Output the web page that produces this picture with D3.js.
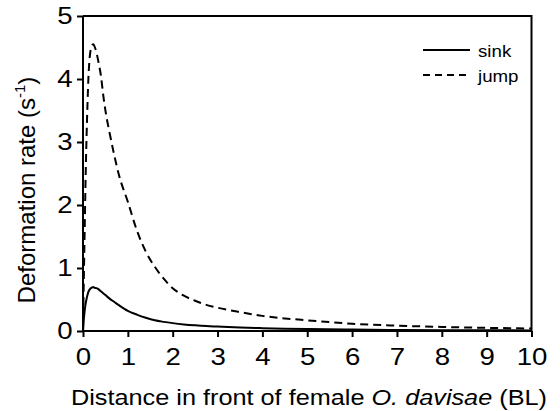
<!DOCTYPE html>
<html>
<head>
<meta charset="utf-8">
<script src="https://cdn.jsdelivr.net/npm/d3@7"></script>
<style>
  body { margin: 0; background: #fff; }
  text { font-family: "Liberation Sans", Arial, sans-serif; fill: #000; }
</style>
</head>
<body>
<div id="chart"></div>
<script>
// values
const distance = [0, 0.02, 0.04, 0.06, 0.08, 0.1, 0.12, 0.15, 0.2, 0.23, 0.25, 0.3, 0.35, 0.4, 0.45, 0.5,
                  0.6, 0.7, 0.8, 1.0, 1.2, 1.4, 1.6, 1.8, 2.0, 2.25, 2.5, 2.75, 3.0, 3.5, 4, 4.5, 5, 6, 7, 8, 9, 10];
const sink = [0, 0.2, 0.34, 0.44, 0.51, 0.57, 0.62, 0.66, 0.69, 0.70, 0.69, 0.68, 0.66, 0.63, 0.6, 0.57,
              0.51, 0.46, 0.41, 0.32, 0.26, 0.21, 0.17, 0.145, 0.125, 0.105, 0.09, 0.078, 0.07, 0.055, 0.045, 0.037, 0.03, 0.022, 0.017, 0.013, 0.011, 0.009];
const jump = [0, 0.9, 1.7, 2.5, 3.1, 3.6, 4.0, 4.35, 4.53, 4.55, 4.53, 4.42, 4.25, 4.05, 3.75, 3.5,
              3.12, 2.78, 2.48, 2.05, 1.6, 1.26, 1.02, 0.83, 0.68, 0.56, 0.48, 0.415, 0.37, 0.3, 0.24, 0.2, 0.17, 0.115, 0.085, 0.065, 0.05, 0.04];
const xTicks = [0, 1, 2, 3, 4, 5, 6, 7, 8, 9, 10];
const yTicks = [0, 1, 2, 3, 4, 5];
const seriesNames = ['sink', 'jump'];

const width = 560, height = 411;
const margin = {top: 16, right: 28.5, bottom: 80, left: 83};
const w = width - margin.left - margin.right, h = height - margin.top - margin.bottom;

const svg = d3.select('#chart').append('svg')
    .attr('width', width).attr('height', height);
const g = svg.append('g').attr('transform', `translate(${margin.left},${margin.top})`);

const x = d3.scaleLinear().domain([0, 10]).range([0, w]);
const y = d3.scaleLinear().domain([0, 5]).range([h, 0]);

// frame (top and right sides)
g.append('path')
    .attr('d', `M0,0 H${w} V${h}`)
    .attr('fill', 'none').attr('stroke', '#000').attr('stroke-width', 2);

const xAxis = g.append('g').attr('transform', `translate(0,${h})`)
    .call(d3.axisBottom(x).tickValues(xTicks).tickSize(6).tickPadding(10).tickFormat(d3.format('d')));
const yAxis = g.append('g')
    .call(d3.axisLeft(y).tickValues(yTicks).tickSize(6).tickPadding(4).tickFormat(d3.format('d')));

[xAxis, yAxis].forEach(a => {
  a.select('.domain').attr('stroke-width', 2).attr('d', a === xAxis ? `M0,0H${w}` : `M0,0V${h}`);
  a.selectAll('.tick line').attr('stroke-width', 2);
  a.selectAll('.tick text').style('font-family', '"Liberation Sans", Arial, sans-serif')
      .style('font-size', '24px').attr('fill', '#000')
      .attr('transform', 'scale(1.15,1)');
});
xAxis.selectAll('.tick text').attr('dy', '0.75em');
yAxis.selectAll('.tick text').attr('x', -9);

const line = d3.line()
    .curve(d3.curveMonotoneX)
    .x((d, i) => x(distance[i]))
    .y(d => y(d));

g.append('path').datum(jump)
    .attr('d', line)
    .attr('fill', 'none').attr('stroke', '#000').attr('stroke-width', 2)
    .attr('stroke-dasharray', '8,5');

g.append('path').datum(sink)
    .attr('d', line)
    .attr('fill', 'none').attr('stroke', '#000').attr('stroke-width', 2);

// legend
const legend = svg.append('g');
seriesNames.forEach((name, i) => {
  const ly = 50 + i * 25;
  legend.append('line')
      .attr('x1', 423).attr('x2', 470).attr('y1', ly).attr('y2', ly)
      .attr('stroke', '#000').attr('stroke-width', 2)
      .attr('stroke-dasharray', i === 1 ? '7,5' : null);
  legend.append('text')
      .attr('transform', `translate(478,${ly + 6.5}) scale(1.1,1)`)
      .style('font-size', '17px')
      .text(name);
});

// axis titles
const xt = svg.append('text')
    .attr('x', 309).attr('y', 405)
    .attr('text-anchor', 'middle')
    .attr('textLength', 476).attr('lengthAdjust', 'spacingAndGlyphs')
    .style('font-size', '22px');
xt.append('tspan').text('Distance in front of female ');
xt.append('tspan').style('font-style', 'italic').text('O. davisae');
xt.append('tspan').text(' (BL)');

const yt = svg.append('text')
    .attr('transform', 'translate(35,190) rotate(-90)')
    .attr('text-anchor', 'middle')
    .style('font-size', '24px');
yt.append('tspan').text('Deformation rate (s');
yt.append('tspan').attr('dy', -10).style('font-size', '15px').text('-1');
yt.append('tspan').attr('dy', 10).text(')');
</script>
</body>
</html>
